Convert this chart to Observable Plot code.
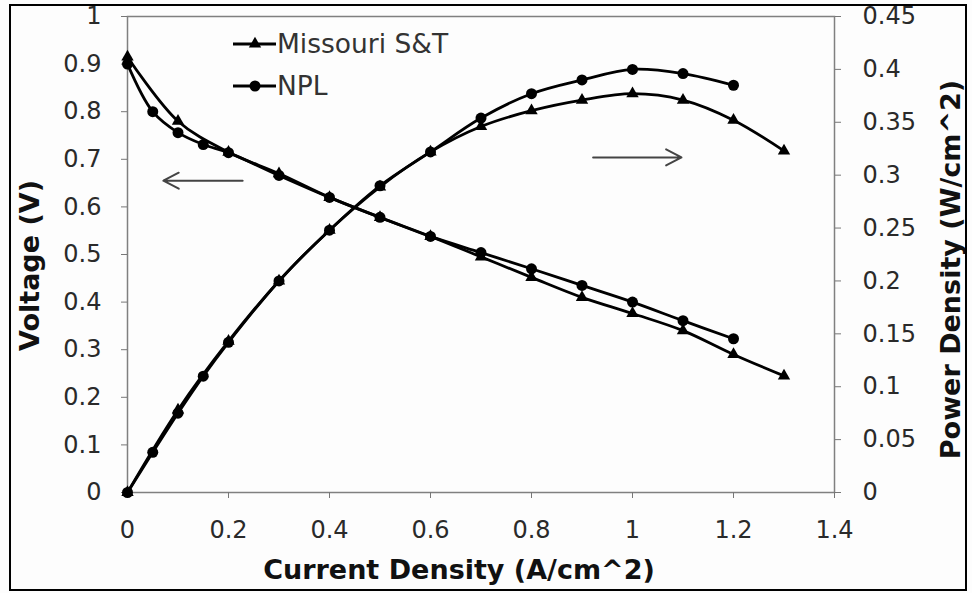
<!DOCTYPE html>
<html><head><meta charset="utf-8">
<script src="https://cdn.jsdelivr.net/npm/d3@7"></script>
<script src="https://cdn.jsdelivr.net/npm/@observablehq/plot@0.6"></script>
<style>
body{margin:0;background:#fff;}
#wrap{position:relative;width:972px;height:593px;overflow:hidden;background:#fdfdfd}
#chart{position:absolute;left:0;top:0}
#overlay{position:absolute;left:0;top:0;pointer-events:none}
#border{position:absolute;left:9px;top:4px;width:954px;height:583px;border:2px solid #000;pointer-events:none}
</style></head>
<body><div id="wrap"><div id="chart"></div><svg id="overlay" width="972" height="593"></svg><div id="border"></div></div>
<script>
// ---- data ----
const mstCurrent = [0, 0.1, 0.2, 0.3, 0.4, 0.5, 0.6, 0.7, 0.8, 0.9, 1.0, 1.1, 1.2, 1.3];
const mstVoltage = [0.915, 0.78, 0.715, 0.67, 0.62, 0.578, 0.538, 0.495, 0.452, 0.41, 0.376, 0.34, 0.29, 0.245];
const mstPower   = [0, 0.078, 0.143, 0.2, 0.248, 0.289, 0.322, 0.346, 0.361, 0.371, 0.377, 0.371, 0.352, 0.323];

const nplCurrent = [0, 0.05, 0.1, 0.15, 0.2, 0.3, 0.4, 0.5, 0.6, 0.7, 0.8, 0.9, 1.0, 1.1, 1.2];
const nplVoltage = [0.90, 0.80, 0.756, 0.731, 0.714, 0.666, 0.62, 0.578, 0.538, 0.504, 0.47, 0.435, 0.40, 0.361, 0.323];
const nplPower   = [0, 0.038, 0.075, 0.11, 0.142, 0.2, 0.248, 0.29, 0.322, 0.354, 0.377, 0.39, 0.40, 0.396, 0.385];

const seriesNames = ["Missouri S&T", "NPL"];
const xTicks = [0, 0.2, 0.4, 0.6, 0.8, 1.0, 1.2, 1.4];
const voltageTicks = [0, 0.1, 0.2, 0.3, 0.4, 0.5, 0.6, 0.7, 0.8, 0.9, 1.0];
const powerTicks = [0, 0.05, 0.1, 0.15, 0.2, 0.25, 0.3, 0.35, 0.4, 0.45];
const powerMax = 0.45;   // right axis spans 0–0.45 over the same height as 0–1 V
const xTitle = "Current Density (A/cm^2)";
const vTitle = "Voltage (V)";
const pTitle = "Power Density (W/cm^2)";
// direction arrows (data units: current, voltage-equivalent height)
const arrowNotes = [
  {x1: 0.228, x2: 0.071, y: 0.655},
  {x1: 0.922, x2: 1.097, y: 0.704}
];

// ---- tables ----
const mk = (name, cur, vals) => cur.map((c, i) => ({series: name, current: c, value: vals[i]}));
const mstV = mk(seriesNames[0], mstCurrent, mstVoltage);
const nplV = mk(seriesNames[1], nplCurrent, nplVoltage);
const mstP = mk(seriesNames[0], mstCurrent, mstPower);
const nplP = mk(seriesNames[1], nplCurrent, nplPower);
const toV = d => d.value / powerMax;
const fmt = d => String(+d.toFixed(2));

const lineOpts = {curve: "catmull-rom", stroke: "#000", strokeWidth: 2.8};
const titleOpts = {text: d => d, fontSize: 27, fontWeight: "bold", fill: "#111", fontFamily: "DejaVu Sans", textAnchor: "middle", lineAnchor: "middle"};

const chart = Plot.plot({
  width: 972, height: 593,
  marginLeft: 127, marginRight: 138, marginTop: 16, marginBottom: 101,
  style: {fontFamily: "DejaVu Sans", fontSize: "24px", background: "transparent", color: "#333"},
  x: {domain: [0, 1.4]},
  y: {domain: [0, 1]},
  marks: [
    Plot.frame({stroke: "#808080", strokeWidth: 1.5}),
    Plot.axisX({ticks: xTicks, tickFormat: fmt, tickSize: 6, tickPadding: 22, label: null, stroke: "#777", fill: "#2a2a2a"}),
    Plot.axisY({anchor: "left", ticks: voltageTicks, tickFormat: fmt, tickSize: 6, tickPadding: 20, label: null, stroke: "#777", fill: "#2a2a2a"}),
    Plot.axisY({anchor: "right", ticks: powerTicks.map(p => p / powerMax), tickFormat: v => fmt(v * powerMax), tickSize: 6, tickPadding: 22, label: null, stroke: "#777", fill: "#2a2a2a"}),
    Plot.arrow(arrowNotes, {x1: "x1", x2: "x2", y1: "y", y2: "y", stroke: "#444", strokeWidth: 2, headLength: 13, headAngle: 55}),
    Plot.line(mstV, {x: "current", y: "value", ...lineOpts}),
    Plot.line(nplV, {x: "current", y: "value", ...lineOpts}),
    Plot.line(mstP, {x: "current", y: toV, ...lineOpts}),
    Plot.line(nplP, {x: "current", y: toV, ...lineOpts}),
    Plot.dot(mstV, {x: "current", y: "value", symbol: "triangle", r: 4.6, fill: "#000"}),
    Plot.dot(mstP, {x: "current", y: toV, symbol: "triangle", r: 4.6, fill: "#000"}),
    Plot.dot(nplV, {x: "current", y: "value", symbol: "circle", r: 5.5, fill: "#000"}),
    Plot.dot(nplP, {x: "current", y: toV, symbol: "circle", r: 5.5, fill: "#000"}),
    Plot.text([xTitle], {...titleOpts, frameAnchor: "bottom", dx: -22, dy: 78}),
    Plot.text([vTitle], {...titleOpts, frameAnchor: "left", rotate: -90, dx: -97, dy: 11}),
    Plot.text([pTitle], {...titleOpts, frameAnchor: "right", rotate: -90, dx: 117, dy: 15})
  ]
});
document.getElementById("chart").appendChild(chart);

// ---- legend overlay ----
const ov = d3.select("#overlay");
const legendRows = [{name: seriesNames[0], sym: d3.symbolTriangle, size: 66}, {name: seriesNames[1], sym: d3.symbolCircle, size: 95}];
legendRows.forEach((r, i) => {
  const cy = 44 + i * 42;
  ov.append("line").attr("x1", 233).attr("x2", 276).attr("y1", cy).attr("y2", cy).attr("stroke", "#000").attr("stroke-width", 2.8);
  ov.append("path").attr("d", d3.symbol(r.sym, r.size)()).attr("transform", `translate(255,${cy})`).attr("fill", "#000");
  ov.append("text").attr("x", 277).attr("y", cy + 9).attr("font-family", "DejaVu Sans").attr("font-size", 26.5).attr("fill", "#333").text(r.name);
});
</script>
</body></html>
